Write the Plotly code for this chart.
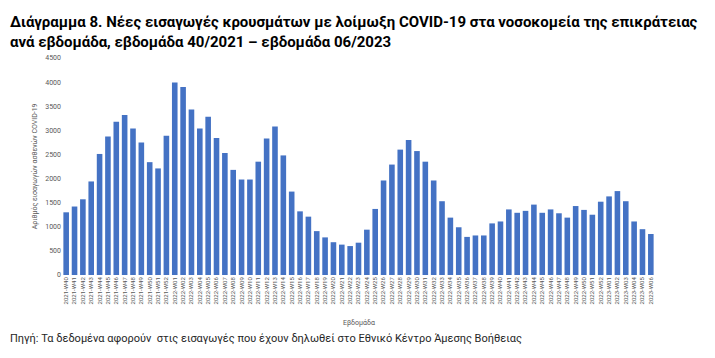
import plotly.graph_objects as go

weeks_2021 = [f"2021-W{w:02d}" for w in range(40, 53)]
weeks_2022 = [f"2022-W{w:02d}" for w in range(1, 53)]
weeks_2023 = [f"2023-W{w:02d}" for w in range(1, 7)]
weeks = weeks_2021 + weeks_2022 + weeks_2023

admissions = [
    1300, 1420, 1570, 1940, 2510, 2870, 3180, 3320, 3040, 2750, 2340, 2210, 2890,
    3990, 3900, 3430, 3040, 3280, 2840, 2530, 2180, 1980, 1980, 2350, 2830, 3080,
    2480, 1730, 1320, 1210, 910, 780, 680, 630, 600, 670, 940, 1370, 1960, 2290,
    2600, 2800, 2570, 2350, 1960, 1530, 1190, 990, 790, 820, 820, 1070, 1110,
    1360, 1290, 1330, 1460, 1290, 1360, 1280, 1190, 1430, 1350, 1250, 1520,
    1630, 1740, 1530, 1110, 950, 850,
]

title_text = ("<b>Διάγραμμα 8. Νέες εισαγωγές κρουσμάτων με λοίμωξη COVID-19 στα νοσοκομεία της επικράτειας"
              "<br>ανά εβδομάδα, εβδομάδα 40/2021 – εβδομάδα 06/2023</b>")
y_title = "Αριθμός εισαγωγών ασθενών COVID-19"
x_title = "Εβδομάδα"
source = "Πηγή: Τα δεδομένα αφορούν  στις εισαγωγές που έχουν δηλωθεί στο Εθνικό Κέντρο Άμεσης Βοήθειας"

fig = go.Figure(go.Bar(x=weeks, y=admissions, marker_color="#4472C4",
                       marker_line_width=0))

fig.update_layout(
    width=707, height=350,
    margin=dict(l=54, r=60, t=50, b=83, autoexpand=False),
    paper_bgcolor="white", plot_bgcolor="white",
    bargap=0.33, showlegend=False,
    font=dict(family="Roboto, sans-serif"),
)
fig.update_xaxes(tickangle=-90, tickfont=dict(size=6, color="#595959"),
                 showgrid=False, showline=False, ticks="", ticklen=0, automargin=False)
fig.update_yaxes(range=[0, 4500], dtick=500, tickfont=dict(size=7, color="#595959"),
                 showgrid=False, zeroline=False, ticks="", automargin=False)

fig.add_annotation(text=title_text, xref="paper", yref="paper", x=-0.091, y=1.0,
                   xanchor="left", yanchor="bottom", yshift=5, showarrow=False, align="left",
                   font=dict(size=15, color="#000000", family="Roboto, sans-serif"))
fig.add_annotation(text=y_title, xref="paper", yref="paper", x=-0.035, y=0.5,
                   xanchor="right", yanchor="middle", showarrow=False, textangle=-90,
                   font=dict(size=7, color="#595959"))
fig.add_annotation(text=x_title, xref="paper", yref="paper", x=0.5, y=-0.19,
                   xanchor="center", yanchor="top", showarrow=False,
                   font=dict(size=7, color="#595959"))
fig.add_annotation(text=source, xref="paper", yref="paper", x=-0.091, y=-0.255,
                   xanchor="left", yanchor="top", showarrow=False,
                   font=dict(size=11, color="#262626"))

fig.write_html("out.html")
